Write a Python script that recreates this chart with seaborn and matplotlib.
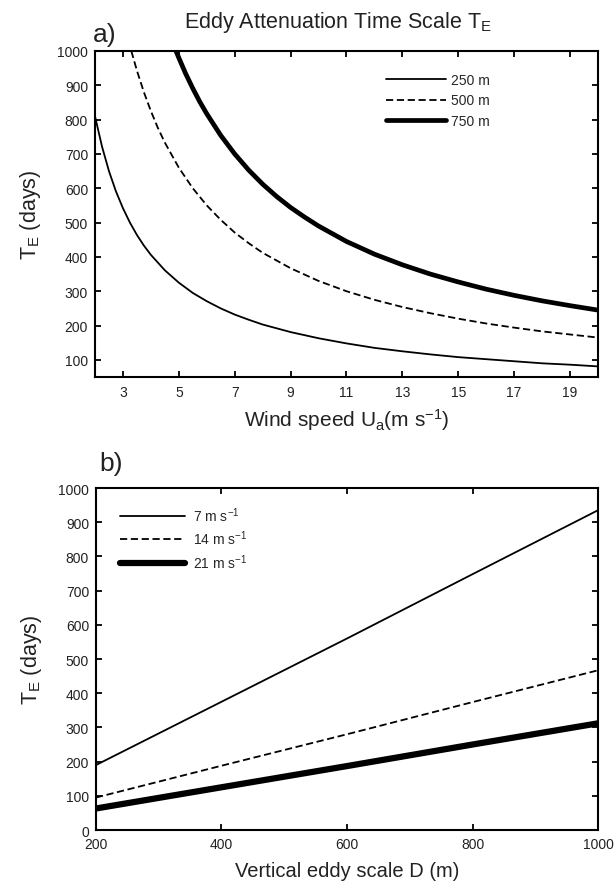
import numpy as np
import pandas as pd
import matplotlib
matplotlib.use("Agg")
import matplotlib.pyplot as plt
import seaborn as sns

# panel a: T_E (days) at these wind speeds (m/s)
u_250 = [2, 2.25, 2.5, 2.75, 3, 3.25, 3.5, 3.75, 4, 4.5, 5, 5.5, 6, 6.5, 7, 7.5, 8, 9, 10, 11, 12, 13, 14, 15, 16, 17, 18, 19, 20]
t_250 = [810, 722, 650, 591, 542, 500, 464, 433, 406, 361, 325, 295, 271, 250, 232, 217, 203, 181, 163, 148, 135, 125, 116, 108, 102, 96, 90, 86, 81]
u_500 = [3.3, 3.5, 3.75, 4, 4.25, 4.5, 5, 5.5, 6, 6.5, 7, 7.5, 8, 9, 10, 11, 12, 13, 14, 15, 16, 17, 18, 19, 20]
t_500 = [1000, 943, 880, 825, 776, 733, 660, 600, 550, 508, 471, 440, 412, 367, 330, 300, 275, 254, 236, 220, 206, 194, 183, 174, 165]
u_750 = [4.9, 5, 5.25, 5.5, 5.75, 6, 6.5, 7, 7.5, 8, 8.5, 9, 9.5, 10, 11, 12, 13, 14, 15, 16, 17, 18, 19, 20]
t_750 = [1000, 980, 933, 891, 852, 817, 754, 700, 653, 612, 576, 544, 516, 490, 445, 408, 377, 350, 327, 306, 288, 272, 258, 245]

# panel b: T_E vs vertical eddy scale D (m)
d_vals = [200, 400, 600, 800, 1000]
t_7 = [190, 375, 560, 748, 935]
t_14 = [95, 188, 280, 374, 467]
t_21 = [63, 125, 187, 250, 312]

sns.set_style("ticks")
plt.rcParams['font.family'] = ['Liberation Sans', 'DejaVu Sans']
plt.rcParams['mathtext.fontset'] = 'custom'
plt.rcParams['mathtext.rm'] = 'Liberation Sans'
plt.rcParams['mathtext.it'] = 'Liberation Sans'
plt.rcParams['mathtext.default'] = 'regular'

txt = '#222222'
fig = plt.figure(figsize=(6.16, 8.87), dpi=100)
axa = fig.add_axes([0.1542, 0.5738, 0.8166, 0.3676])
axb = fig.add_axes([0.1558, 0.0631, 0.815, 0.3856])

def style_ax(ax, xpad):
    for s in ax.spines.values():
        s.set_linewidth(1.5)
        s.set_color('k')
    ax.tick_params(direction='in', top=True, right=True, length=4, width=1.3,
                   labelsize=10, colors='k', labelcolor=txt, pad=5)
    ax.tick_params(axis='x', pad=xpad)

# panel a
sns.lineplot(x=u_250, y=t_250, ax=axa, color='k', lw=1.3, label='250 m')
sns.lineplot(x=u_500, y=t_500, ax=axa, color='k', lw=1.3, linestyle=(0, (4, 2)), label='500 m')
sns.lineplot(x=u_750, y=t_750, ax=axa, color='k', lw=3.4, label='750 m')
axa.set_xlim(2, 20)
axa.set_ylim(50, 1000)
axa.set_xticks([3, 5, 7, 9, 11, 13, 15, 17, 19])
axa.set_yticks(np.arange(100, 1001, 100))
axa.set_xlabel('Wind speed U$_a$(m s$^{-1}$)', fontsize=15, labelpad=5, color=txt)
axa.set_ylabel('T$_E$ (days)', fontsize=15.5, labelpad=10, color=txt)
axa.legend(loc='upper right', bbox_to_anchor=(0.785, 0.932), frameon=False, fontsize=10,
           handlelength=4.3, handletextpad=0.35, labelspacing=0.45,
           borderaxespad=0, borderpad=0)
style_ax(axa, 6)
fig.text(0.548, 0.975, 'Eddy Attenuation Time Scale T$_E$', ha='center', va='center', fontsize=15.5, color=txt)
fig.text(0.17, 0.961, 'a)', ha='center', va='center', fontsize=19, color=txt)

# panel b
sns.lineplot(x=d_vals, y=t_7, ax=axb, color='k', lw=1.3, label='7 m s$^{-1}$')
sns.lineplot(x=d_vals, y=t_14, ax=axb, color='k', lw=1.3, linestyle=(0, (4, 2)), label='14 m s$^{-1}$')
sns.lineplot(x=d_vals, y=t_21, ax=axb, color='k', lw=4.5, label='21 m s$^{-1}$')
axb.set_xlim(200, 1000)
axb.set_ylim(0, 1000)
axb.set_xticks([200, 400, 600, 800, 1000])
axb.set_yticks(np.arange(0, 1001, 100))
axb.set_xlabel('Vertical eddy scale D (m)', fontsize=14.5, labelpad=7, color=txt)
axb.set_ylabel('T$_E$ (days)', fontsize=15.5, labelpad=10, color=txt)
axb.legend(loc='upper left', bbox_to_anchor=(0.048, 0.95), frameon=False, fontsize=10,
           handlelength=4.7, handletextpad=0.55, labelspacing=0.35,
           borderaxespad=0, borderpad=0)
style_ax(axb, 5)
fig.text(0.18, 0.477, 'b)', ha='center', va='center', fontsize=19, color=txt)

fig.savefig('out.png', dpi=100)
